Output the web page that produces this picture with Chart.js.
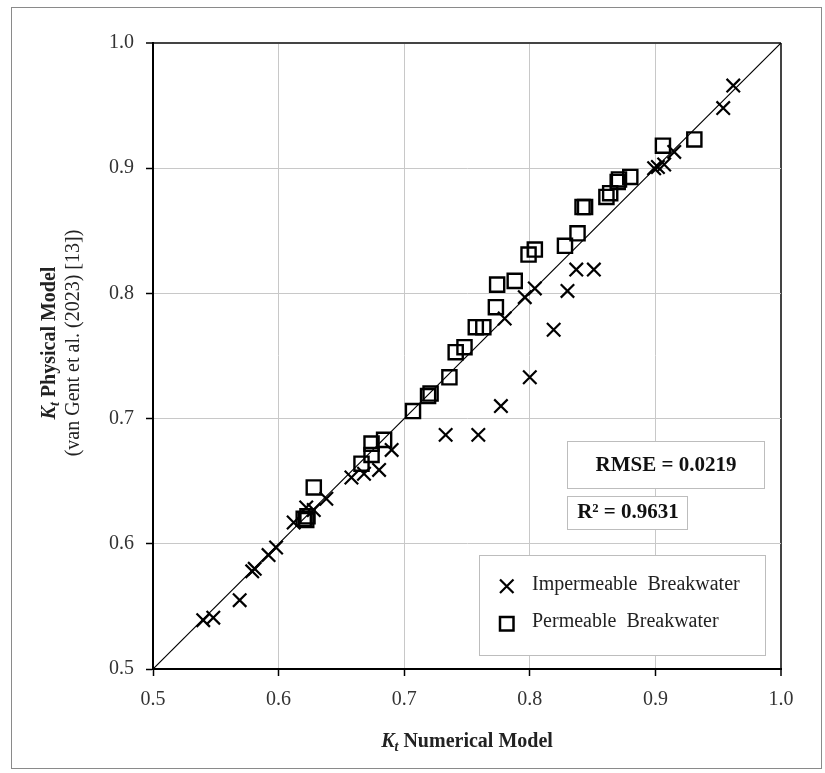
<!DOCTYPE html>
<html>
<head>
<meta charset="utf-8">
<script src="https://cdn.jsdelivr.net/npm/chart.js@4.4.0/dist/chart.umd.min.js"></script>
<style>
  body { margin: 0; background: #fff; }
  #wrap { width: 825px; height: 773px; }
</style>
</head>
<body>
<div id="wrap"><canvas id="chart" width="825" height="773"></canvas></div>
<script>
// Kt numerical (x) vs Kt physical (y)
const impX = [0.540, 0.548, 0.569, 0.579, 0.581, 0.592, 0.598, 0.612, 0.622, 0.628, 0.638,
              0.658, 0.668, 0.680, 0.690, 0.733, 0.759, 0.777, 0.780, 0.796, 0.800, 0.804,
              0.819, 0.830, 0.837, 0.851, 0.899, 0.902, 0.907, 0.915, 0.954, 0.962];
const impY = [0.539, 0.541, 0.555, 0.578, 0.580, 0.591, 0.597, 0.617, 0.629, 0.627, 0.636,
              0.653, 0.656, 0.659, 0.675, 0.687, 0.687, 0.710, 0.780, 0.797, 0.733, 0.804,
              0.771, 0.802, 0.819, 0.819, 0.900, 0.901, 0.903, 0.913, 0.948, 0.966];

const permX = [0.620, 0.622, 0.623, 0.628, 0.666, 0.674, 0.674, 0.684, 0.707, 0.719, 0.721,
               0.736, 0.741, 0.748, 0.757, 0.763, 0.773, 0.774, 0.788, 0.799, 0.804, 0.828,
               0.838, 0.842, 0.844, 0.861, 0.864, 0.870, 0.871, 0.880, 0.906, 0.931];
const permY = [0.620, 0.619, 0.622, 0.645, 0.664, 0.671, 0.680, 0.683, 0.706, 0.718, 0.720,
               0.733, 0.753, 0.757, 0.773, 0.773, 0.789, 0.807, 0.810, 0.831, 0.835, 0.838,
               0.848, 0.869, 0.869, 0.877, 0.880, 0.889, 0.891, 0.893, 0.918, 0.923];

const axisTicks = [0.5, 0.6, 0.7, 0.8, 0.9, 1.0];
const equalityLine = [0.5, 1.0];
const legendLabels = ['Impermeable  Breakwater', 'Permeable  Breakwater'];
const rmseText = 'RMSE = 0.0219';
const r2Text = 'R\u00B2 = 0.9631';

const SERIF = '"Liberation Serif", "Times New Roman", serif';

function gridColor(c) {
  if (!c.tick) return '#c8c8c8';
  if (c.tick.value === 1) return '#444';
  if (c.tick.value === 0.5) return 'rgba(0,0,0,0)';
  return '#c8c8c8';
}

function axis(pos, fit) {
  return {
    type: 'linear', position: pos, min: 0.5, max: 1.0,
    afterBuildTicks: s => { s.ticks = axisTicks.map(v => ({ value: v })); },
    afterFit: fit,
    grid: { color: gridColor, lineWidth: c => (c.tick && c.tick.value === 1 ? 2 : 1),
            tickLength: 7, tickColor: '#000', tickWidth: 1.5 },
    border: { display: true, color: '#000', width: 2 },
    ticks: { font: { family: SERIF, size: 20 }, color: '#333', padding: 12, maxRotation: 0,
             callback: v => v.toFixed(1) }
  };
}

// K_t with italic subscript, then the rest in bold
function drawKt(ctx, rest, cx, base) {
  const fK = 'italic bold 20px ' + SERIF, fT = 'italic bold 14px ' + SERIF, fR = 'bold 20px ' + SERIF;
  ctx.font = fK; const wK = ctx.measureText('K').width;
  ctx.font = fT; const wT = ctx.measureText('t').width;
  ctx.font = fR; const wR = ctx.measureText(rest).width;
  let x = cx - (wK + wT + wR) / 2;
  ctx.textAlign = 'left'; ctx.textBaseline = 'alphabetic';
  ctx.font = fK; ctx.fillText('K', x, base); x += wK;
  ctx.font = fT; ctx.fillText('t', x, base + 4); x += wT;
  ctx.font = fR; ctx.fillText(rest, x, base);
}

const extras = {
  id: 'extras',
  afterDraw(chart) {
    const { ctx, chartArea: a } = chart;
    ctx.save();
    // outer frame
    ctx.strokeStyle = '#8a8a8a'; ctx.lineWidth = 1;
    ctx.strokeRect(11.5, 7.5, 810, 761);

    ctx.fillStyle = '#222';
    drawKt(ctx, ' Numerical Model', (a.left + a.right) / 2, 747);

    ctx.save();
    ctx.translate(55, 343); ctx.rotate(-Math.PI / 2);
    drawKt(ctx, ' Physical Model', 0, 0);
    ctx.font = '20px ' + SERIF; ctx.textAlign = 'center';
    ctx.fillText('(van Gent et al. (2023) [13])', 0, 24);
    ctx.restore();

    // stat boxes
    ctx.lineWidth = 1; ctx.strokeStyle = '#bdbdbd';
    const box = (x, y, w, h) => { ctx.fillStyle = '#fff'; ctx.fillRect(x, y, w, h); ctx.strokeRect(x, y, w, h); };
    box(567.5, 441.5, 197, 47);
    box(567.5, 496.5, 120, 33);
    box(479.5, 555.5, 286, 100);

    ctx.fillStyle = '#111'; ctx.textBaseline = 'middle'; ctx.textAlign = 'center';
    ctx.font = 'bold 21px ' + SERIF;
    ctx.fillText(rmseText, 666, 466);
    ctx.fillText(r2Text, 628, 513);

    // legend
    ctx.textAlign = 'left'; ctx.font = '20px ' + SERIF; ctx.fillStyle = '#222';
    ctx.fillText(legendLabels[0], 532, 585);
    ctx.fillText(legendLabels[1], 532, 622);
    ctx.strokeStyle = '#000'; ctx.lineWidth = 2.2;
    ctx.beginPath();
    ctx.moveTo(500, 579.5); ctx.lineTo(513.5, 593);
    ctx.moveTo(513.5, 579.5); ctx.lineTo(500, 593);
    ctx.stroke();
    ctx.lineWidth = 2.5;
    ctx.strokeRect(500, 617, 13.5, 13.5);
    ctx.restore();
  }
};

new Chart(document.getElementById('chart'), {
  type: 'scatter',
  data: {
    datasets: [
      { label: legendLabels[0], data: impX.map((x, i) => ({ x, y: impY[i] })),
        pointStyle: 'crossRot', pointRadius: 9.5, pointBorderWidth: 2.2, borderColor: '#000', backgroundColor: '#000' },
      { label: legendLabels[1], data: permX.map((x, i) => ({ x, y: permY[i] })),
        pointStyle: 'rect', pointRadius: 10, pointBorderWidth: 2.4, borderColor: '#000', backgroundColor: 'rgba(0,0,0,0)' },
      { type: 'line', label: '1:1', data: equalityLine.map(v => ({ x: v, y: v })),
        borderColor: '#000', borderWidth: 1.2, pointRadius: 0, fill: false }
    ]
  },
  options: {
    responsive: false, animation: false,
    layout: { padding: { left: 0, right: 44, top: 43, bottom: 0 } },
    scales: {
      x: axis('bottom', s => { s.height = 104; }),
      y: axis('left', s => { s.width = 153; })
    },
    plugins: { legend: { display: false }, tooltip: { enabled: false } }
  },
  plugins: [extras]
});
</script>
</body>
</html>
